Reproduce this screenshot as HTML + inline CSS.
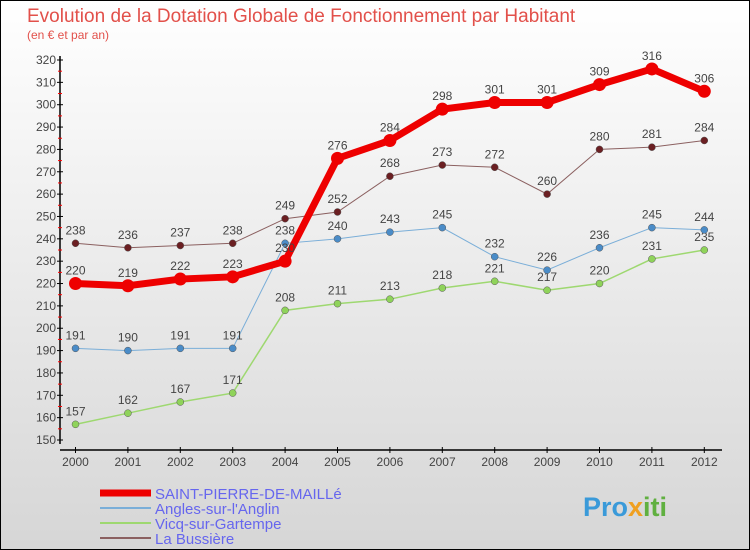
<!DOCTYPE html>
<html><head><meta charset="utf-8"><style>
body{margin:0;width:750px;height:550px;overflow:hidden;font-family:"Liberation Sans",sans-serif}
#wrap{position:absolute;left:0;top:0;width:748px;height:548px;border:1px solid #000;background:linear-gradient(#fff,#d6d6d6)}
</style></head><body>
<div id="wrap">
<svg id="c" width="750" height="550" style="position:absolute;left:-1px;top:-1px">
<text x="27" y="22" font-size="19" fill="#e2504a">Evolution de la Dotation Globale de Fonctionnement par Habitant</text>
<text x="27" y="39" font-size="12" fill="#e2504a">(en € et par an)</text>
<g id="axes"></g><g id="series"></g>
<g id="legend"></g>
<text x="583" y="516" font-size="27" font-weight="bold" fill="#3a9ad9">Pro<tspan fill="#f0a020">x</tspan><tspan fill="#60b040">iti</tspan></text>
</svg></div>
<script>
const years=[2000,2001,2002,2003,2004,2005,2006,2007,2008,2009,2010,2011,2012];
const yTicks=[150,160,170,180,190,200,210,220,230,240,250,260,270,280,290,300,310,320];
const saint=[220,219,222,223,230,276,284,298,301,301,309,316,306];
const angles=[191,190,191,191,238,240,243,245,232,226,236,245,244];
const vicq=[157,162,167,171,208,211,213,218,221,217,220,231,235];
const bussiere=[238,236,237,238,249,252,268,273,272,260,280,281,284];
const names=["SAINT-PIERRE-DE-MAILLé","Angles-sur-l'Anglin","Vicq-sur-Gartempe","La Bussière"];
const NS="http://www.w3.org/2000/svg";
const xs=i=>75.5+i*52.4, ys=v=>60+(320-v)*380/170;
function mk(t,a,p){const e=document.createElementNS(NS,t);for(const k in a)e.setAttribute(k,a[k]);p.appendChild(e);return e;}
const ax=document.getElementById('axes');
let l=mk('line',{x1:60,y1:56,x2:60,y2:444,stroke:'#000','stroke-width':1.5},ax);

l=mk('line',{x1:60,y1:450,x2:722,y2:450,stroke:'#000','stroke-width':1.5},ax);

yTicks.forEach(v=>{const y=ys(v);mk('line',{x1:57,y1:y,x2:63,y2:y,stroke:'#000'},ax);
 if(v<320){const ym=ys(v+5);mk('line',{x1:58,y1:ym,x2:62,y2:ym,stroke:'#f00'},ax);}
 const t=mk('text',{x:56,y:y+4,'text-anchor':'end','font-size':12,fill:'#444'},ax);t.textContent=v;
 });
years.forEach((yr,i)=>{const x=xs(i);mk('line',{x1:x,y1:447,x2:x,y2:453,stroke:'#000'},ax);
 const t=mk('text',{x:x,y:466,'text-anchor':'middle','font-size':12,fill:'#444'},ax);t.textContent=yr;
 });
const S=[[bussiere,'#6b1f22','#8b6060',1,3.5],[vicq,'#8fd35a','#9ed870',1.5,3.5],[angles,'#4a8cc8','#7aaed8',1,3.5],[saint,'#ee0000','#ee0000',7,6.5]];
const sg=document.getElementById('series');
const nm=['la-bussiere','vicq-sur-gartempe','angles-sur-l-anglin','saint-pierre-de-maille'];
S.forEach(([d,pc,lc,w,r],k)=>{
 const g=mk('g',{},sg);
 mk('polyline',{points:d.map((v,i)=>xs(i)+','+ys(v)).join(' '),fill:'none',stroke:lc,'stroke-width':w},g);
 d.forEach((v,i)=>{const c=mk('circle',{cx:xs(i),cy:ys(v),r:r,fill:pc,stroke:k==3?'none':'#555','stroke-width':0.5},g);
  
  const t=mk('text',{x:xs(i),y:ys(v)-9,'text-anchor':'middle','font-size':12,fill:'#444'},g);t.textContent=v;
  });
});
const lg=document.getElementById('legend');
const lcol=['#ee0000','#7aaed8','#9ed870','#8b6060'],lw=[7,2,2,2];
names.forEach((n,i)=>{const y=493+i*15;
 mk('line',{x1:100,y1:y,x2:151,y2:y,stroke:lcol[i],'stroke-width':lw[i]},lg);
 const t=mk('text',{x:155,y:y+6,'font-size':15,fill:'#6666ee'},lg);t.textContent=n;
 });
</script>
</body></html>
